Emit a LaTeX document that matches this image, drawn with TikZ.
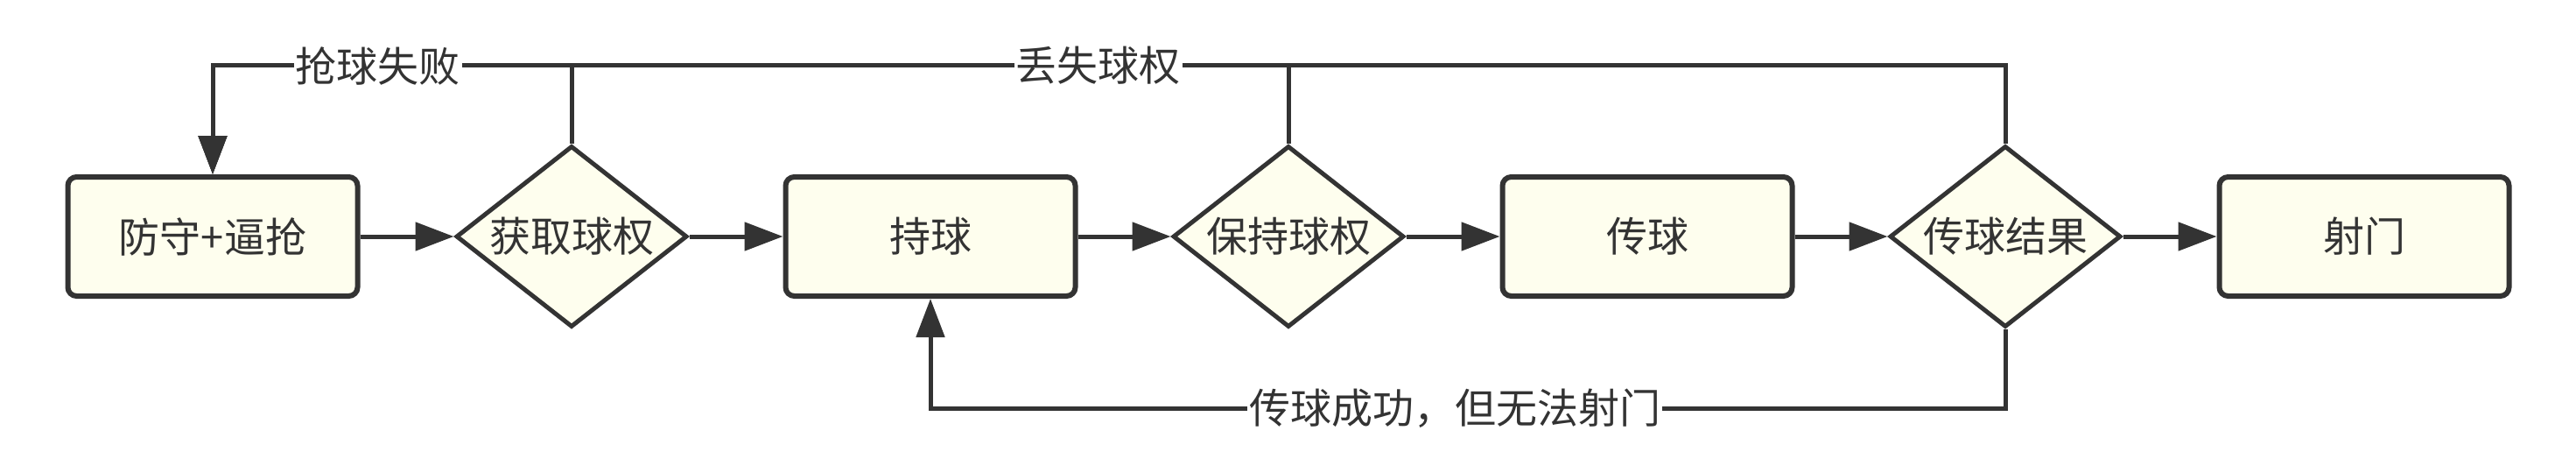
\documentclass[tikz,border=0pt]{standalone}
\usepackage{fontspec}
\usetikzlibrary{shapes.geometric,arrows.meta}
\newfontfamily\cjk{Noto Sans CJK SC}
\definecolor{ink}{HTML}{333333}
\definecolor{boxfill}{RGB}{254,254,238}

\tikzset{
  txt/.style={text=ink, font=\cjk\fontsize{23.5}{28}\selectfont},
  stepbox/.style={txt, draw=ink, fill=boxfill, line width=3pt, rounded corners=5pt,
    minimum width=165.5pt, minimum height=68pt},
  choice/.style={txt, diamond, draw=ink, fill=boxfill, line width=2.5pt, aspect=1.275,
    minimum width=132pt, minimum height=103.5pt, inner sep=0pt},
  flow/.style={draw=ink, line width=2.5pt, -{Triangle[length=22pt,width=16pt]}},
  lbl/.style={txt, fill=white, inner sep=1pt}
}

\begin{document}
\begin{tikzpicture}[x=0.5pt,y=-0.5pt]

\def\xmin{0}
  \def\xmax{2943}
  \def\yrow{270}
  \def\ytop{75}
  \def\ybot{466}

\useasboundingbox (\xmin,0) rectangle (\xmax,540);

% steps and choices along the row
\node[stepbox] (defend) at (243,\yrow) {防守+逼抢};
\node[choice]  (win)    at (653,\yrow) {获取球权};
\node[stepbox] (hold)   at (1063,\yrow) {持球};
\node[choice]  (keep)   at (1472,\yrow) {保持球权};
\node[stepbox] (pass)   at (1882,\yrow) {传球};
\node[choice]  (result) at (2291,\yrow) {传球结果};
\node[stepbox] (shoot)  at (2701,\yrow) {射门};

\coordinate (top) at (\xmin,\ytop);
\coordinate (bot) at (\xmin,\ybot);

% main flow
\foreach \a/\b in {defend/win, win/hold, hold/keep, keep/pass, pass/result, result/shoot}
  \draw[flow] (\a) -- (\b);

% back to defence
\draw[flow] (keep.north) -- (keep.north |- top) -| (defend.north);
\draw[flow] (result.north) -- (result.north |- top) -| node[lbl,pos=0.253] {丢失球权} (defend.north);
\draw[flow] (win.north) -- (win.north |- top) -| node[lbl,pos=0.27] {抢球失败} (defend.north);

% back to holding the ball
\draw[flow] (result.south) -- (result.south |- bot) -| node[lbl,pos=0.256] {传球成功，但无法射门} (hold.south);

\end{tikzpicture}
\end{document}
